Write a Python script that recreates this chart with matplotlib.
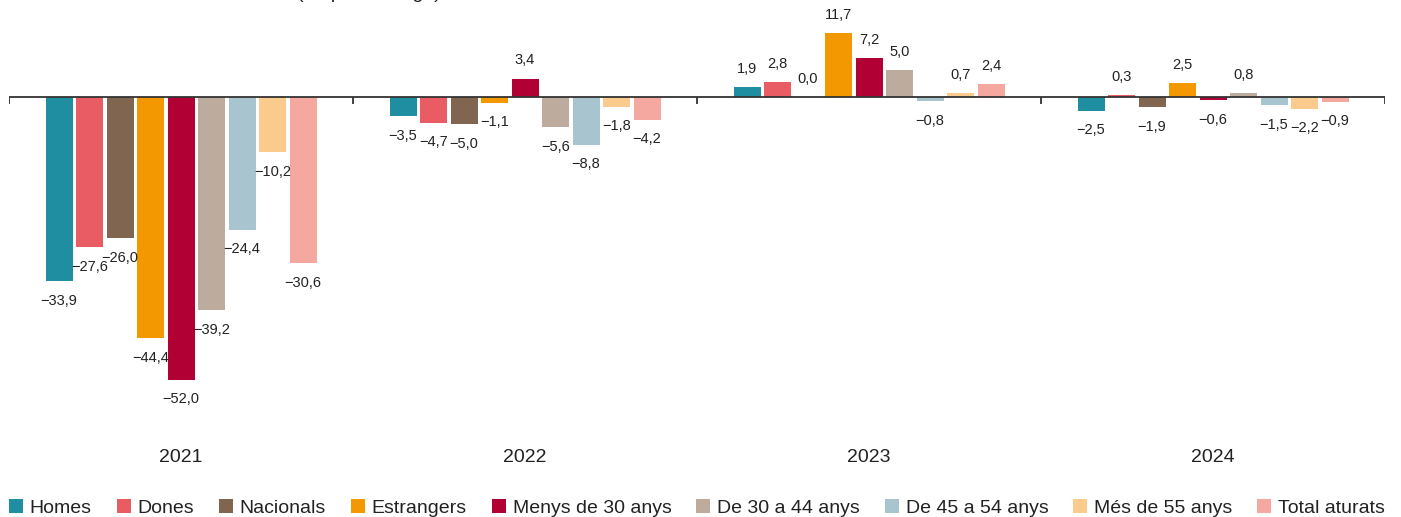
import numpy as np
import matplotlib.pyplot as plt
from matplotlib.patches import Patch

plt.rcParams['font.family'] = ['Liberation Sans', 'DejaVu Sans']

years = ['2021', '2022', '2023', '2024']
series = ['Homes', 'Dones', 'Nacionals', 'Estrangers', 'Menys de 30 anys',
          'De 30 a 44 anys', 'De 45 a 54 anys', 'Més de 55 anys', 'Total aturats']
colors = ['#1f8ea1', '#e95c63', '#806651', '#f39800', '#b00034',
          '#bdac9e', '#a8c4cf', '#fbcb8d', '#f4a8a0']

homes = [-33.9, -3.5, 1.9, -2.5]
dones = [-27.6, -4.7, 2.8, 0.3]
nacionals = [-26.0, -5.0, 0.0, -1.9]
estrangers = [-44.4, -1.1, 11.7, 2.5]
menys_30 = [-52.0, 3.4, 7.2, -0.6]
de_30_44 = [-39.2, -5.6, 5.0, 0.8]
de_45_54 = [-24.4, -8.8, -0.8, -1.5]
mes_55 = [-10.2, -1.8, 0.7, -2.2]
total = [-30.6, -4.2, 2.4, -0.9]
values = [homes, dones, nacionals, estrangers, menys_30,
          de_30_44, de_45_54, mes_55, total]

W, H = 1401, 517
fig = plt.figure(figsize=(W / 100, H / 100), dpi=100)
ax = fig.add_axes([9 / W, 1 - 420 / H, (1385 - 9) / W, (420 - 10) / H])

x = np.arange(len(years))
step = 30.5 / 344
width = 27 / 344

for j, (name, vals, c) in enumerate(zip(series, values, colors)):
    pos = x + (j - 4) * step
    bars = ax.bar(pos, vals, width=width, color=c, label=name, zorder=2)
    for b, v in zip(bars, vals):
        txt = f'{v:.1f}'.replace('.', ',').replace('-', '\u2212')
        if v >= 0:
            off, va = 8, 'bottom'
        else:
            off, va = -9, 'top'
        ax.annotate(txt, (b.get_x() + b.get_width() / 2, v),
                    xytext=(0, off), textcoords='offset points',
                    ha='center', va=va, fontsize=10.5, color='#222222')

ax.set_xlim(-0.5, 3.5)
ax.set_ylim(-59.4, 16.0)
ax.axhline(0, color='#333333', lw=1.3, zorder=3)
ax.vlines(np.arange(-0.5, 4.0, 1.0), -1.3, 0, color='#333333', lw=1.3, zorder=3)

for s in ax.spines.values():
    s.set_visible(False)
ax.set_yticks([])
ax.set_xticks(x)
ax.set_xticklabels(years, fontsize=14, color='#222222')
ax.tick_params(axis='x', length=0, pad=21)

fig.text(297 / W, 1 + 1.5 / H, '(en percentatge)', fontsize=14,
         color='#222222', va='baseline', ha='left')

handles = [Patch(facecolor=c, edgecolor='none') for c in colors]
fig.legend(handles, series, loc='lower left', ncol=9, mode='expand',
           bbox_to_anchor=(9 / W, 0, (1385 - 9) / W, 26 / H),
           frameon=False, fontsize=14, handlelength=0.72, handleheight=0.72,
           handletextpad=0.35, borderaxespad=0, borderpad=0, columnspacing=1.0,
           labelcolor='#222222')

fig.savefig('out.png', dpi=100)
